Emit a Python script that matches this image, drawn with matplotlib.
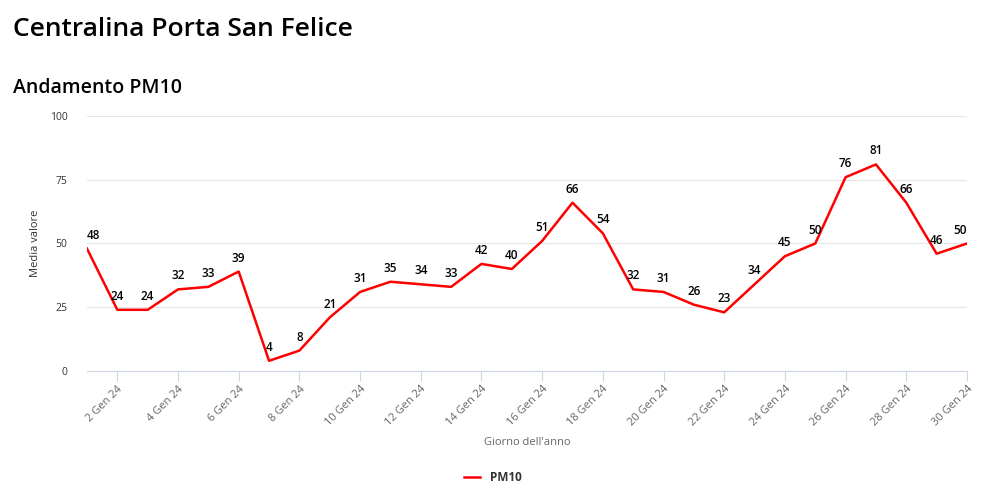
import matplotlib
matplotlib.use("Agg")
import matplotlib.pyplot as plt

plt.rcParams['font.family'] = ['Open Sans', 'DejaVu Sans']

# giorni di gennaio 2024 e valori medi PM10
days = list(range(1, 31))
pm10 = [48, 24, 24, 32, 33, 39, 4, 8, 21, 31, 35, 34, 33, 42, 40,
        51, 66, 54, 32, 31, 26, 23, 34, 45, 50, 76, 81, 66, 46, 50]
tick_days = list(range(2, 31, 2))
tick_labels = [f"{d} Gen 24" for d in tick_days]
y_ticks = [0, 25, 50, 75, 100]

fig = plt.figure(figsize=(9.85, 4.95), dpi=100)
ax = fig.add_axes([0.0883, 0.2505, 0.8934, 0.5152])

line, = ax.plot(days, pm10, color='#ff0000', lw=1.8, label='PM10')
for i, (d, v) in enumerate(zip(days, pm10)):
    # le etichette agli estremi restano dentro l'area del grafico
    ha = 'left' if i == 0 else ('right' if i == len(days) - 1 else 'center')
    ax.annotate(str(v), (d, v), xytext=(0, 5), textcoords='offset points',
                ha=ha, va='bottom', fontsize=8.5, fontweight='semibold',
                color='#000000')

ax.set_xlim(1, 30)
ax.set_ylim(0, 100)
ax.set_xticks(tick_days)
ax.set_xticklabels(tick_labels, rotation=45, ha='right', rotation_mode='anchor',
                   fontsize=8, color='#666666')
ax.set_yticks(y_ticks)
ax.tick_params(axis='y', length=0, labelsize=7.5, labelcolor='#333333', pad=14)
ax.tick_params(axis='x', length=7, color='#ccd6eb', pad=2)
ax.grid(axis='y', color='#e6e6e6', lw=0.8)
ax.set_axisbelow(True)
for s in ['top', 'right', 'left']:
    ax.spines[s].set_visible(False)
ax.spines['bottom'].set_color('#ccd6eb')

ax.set_xlabel("Giorno dell'anno", fontsize=8, color='#666666', labelpad=6)
ax.set_ylabel('Media valore', fontsize=8, color='#333333', labelpad=6)

fig.text(0.013, 0.94, 'Centralina Porta San Felice', fontsize=19,
         fontweight='semibold', va='center')
fig.text(0.013, 0.822, 'Andamento PM10', fontsize=14,
         fontweight='semibold', va='center')

leg = fig.legend(handles=[line], loc='center', bbox_to_anchor=(0.5, 0.035),
                 frameon=False, prop={'size': 8.5, 'weight': 'bold'},
                 handlelength=1.4)
for t in leg.get_texts():
    t.set_color('#333333')

fig.savefig('out.png', dpi=100)
